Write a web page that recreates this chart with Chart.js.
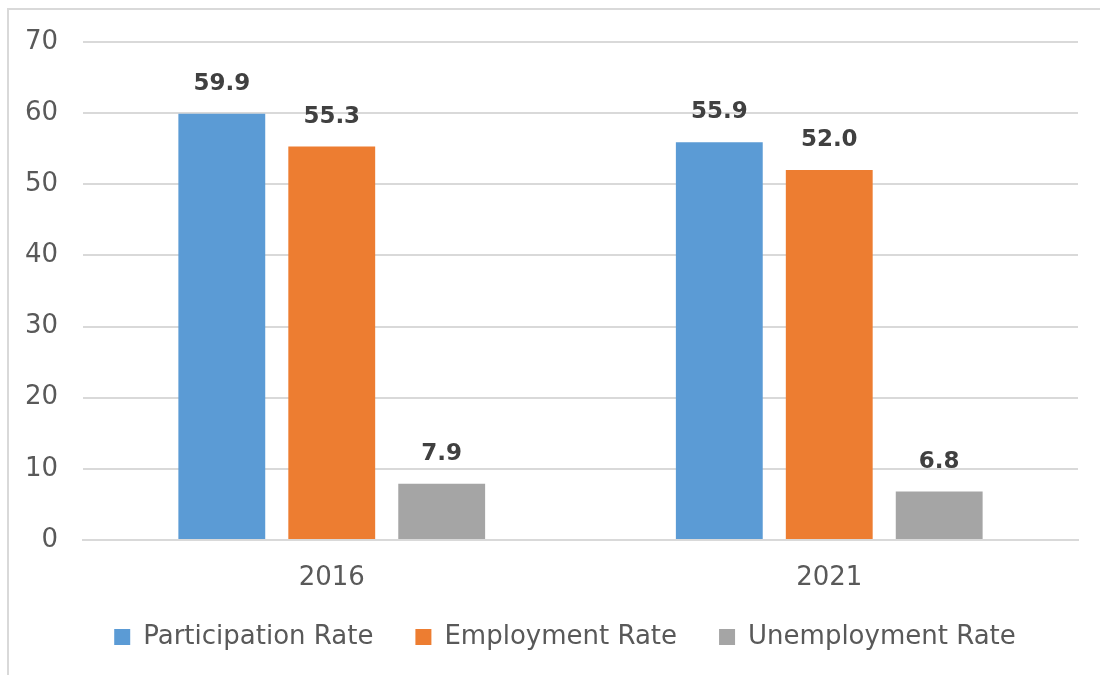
<!DOCTYPE html>
<html>
<head>
<meta charset="utf-8">
<script src="https://cdn.jsdelivr.net/npm/chart.js@4/dist/chart.umd.min.js"></script>
<style>
  html, body { margin: 0; padding: 0; background: #fff; }
  .frame {
    position: absolute; left: 7px; top: 8px; width: 1100px; height: 700px;
    border: 2px solid #d9d9d9; box-sizing: border-box;
  }
  .chart-container { position: absolute; left: 0; top: 0; width: 1100px; height: 675px; }
</style>
</head>
<body>
<div class="frame"></div>
<div class="chart-container">
  <canvas id="rateChart"></canvas>
</div>
<script>
const years = ["2016", "2021"];
const participationRate = [59.9, 55.9];
const employmentRate = [55.3, 52.0];
const unemploymentRate = [7.9, 6.8];
const yTicks = [0, 10, 20, 30, 40, 50, 60, 70];

const fontFamily = "'DejaVu Sans', sans-serif";

// draw the value above each bar
const barLabels = {
    id: "barLabels",
    afterDatasetsDraw(chart) {
        const ctx = chart.ctx;
        ctx.save();
        ctx.font = "bold 23px " + fontFamily;
        ctx.fillStyle = "#404040";
        ctx.textAlign = "center";
        ctx.textBaseline = "middle";
        chart.data.datasets.forEach((ds, i) => {
            chart.getDatasetMeta(i).data.forEach((bar, j) => {
                ctx.fillText(ds.data[j].toFixed(1), bar.x, bar.y - 30);
            });
        });
        ctx.restore();
    }
};

// legend sits a bit right of the canvas centre in the original,
// and the x labels hang lower than the (short) axis box
const tweakLayout = {
    id: "tweakLayout",
    afterLayout(chart) {
        chart.legend.left += 26;
        chart.legend.right += 26;
        chart.scales.x.bottom += 30;
    }
};

new Chart(document.getElementById("rateChart"), {
    type: "bar",
    data: {
        labels: years,
        datasets: [
            { label: "Participation Rate", data: participationRate, backgroundColor: "#5B9BD5" },
            { label: "Employment Rate", data: employmentRate, backgroundColor: "#ED7D31" },
            { label: "Unemployment Rate", data: unemploymentRate, backgroundColor: "#A5A5A5" }
        ]
    },
    options: {
        responsive: true,
        maintainAspectRatio: false,
        animation: false,
        datasets: { bar: { categoryPercentage: 0.663, barPercentage: 0.79 } },
        layout: { padding: { top: 42, right: 22, left: 0, bottom: 15 } },
        plugins: {
            legend: {
                position: "bottom",
                labels: {
                    font: { family: fontFamily, size: 26 },
                    color: "#595959",
                    boxWidth: 16,
                    boxHeight: 16,
                    padding: 42
                }
            },
            tooltip: { enabled: false }
        },
        scales: {
            x: {
                grid: { display: false, drawTicks: false },
                border: { color: "#d9d9d9", width: 2 },
                afterFit: (scale) => { scale.height = 42; },
                ticks: { font: { family: fontFamily, size: 26 }, color: "#595959", padding: 23 }
            },
            y: {
                min: 0,
                max: 70,
                afterBuildTicks: (scale) => { scale.ticks = yTicks.map(v => ({ value: v })); },
                afterFit: (scale) => { scale.width = 83; },
                grid: { color: "#d9d9d9", lineWidth: 2, drawTicks: false },
                border: { display: false },
                ticks: { font: { family: fontFamily, size: 26 }, color: "#595959", padding: 25 }
            }
        }
    },
    plugins: [barLabels, tweakLayout]
});
</script>
</body>
</html>
